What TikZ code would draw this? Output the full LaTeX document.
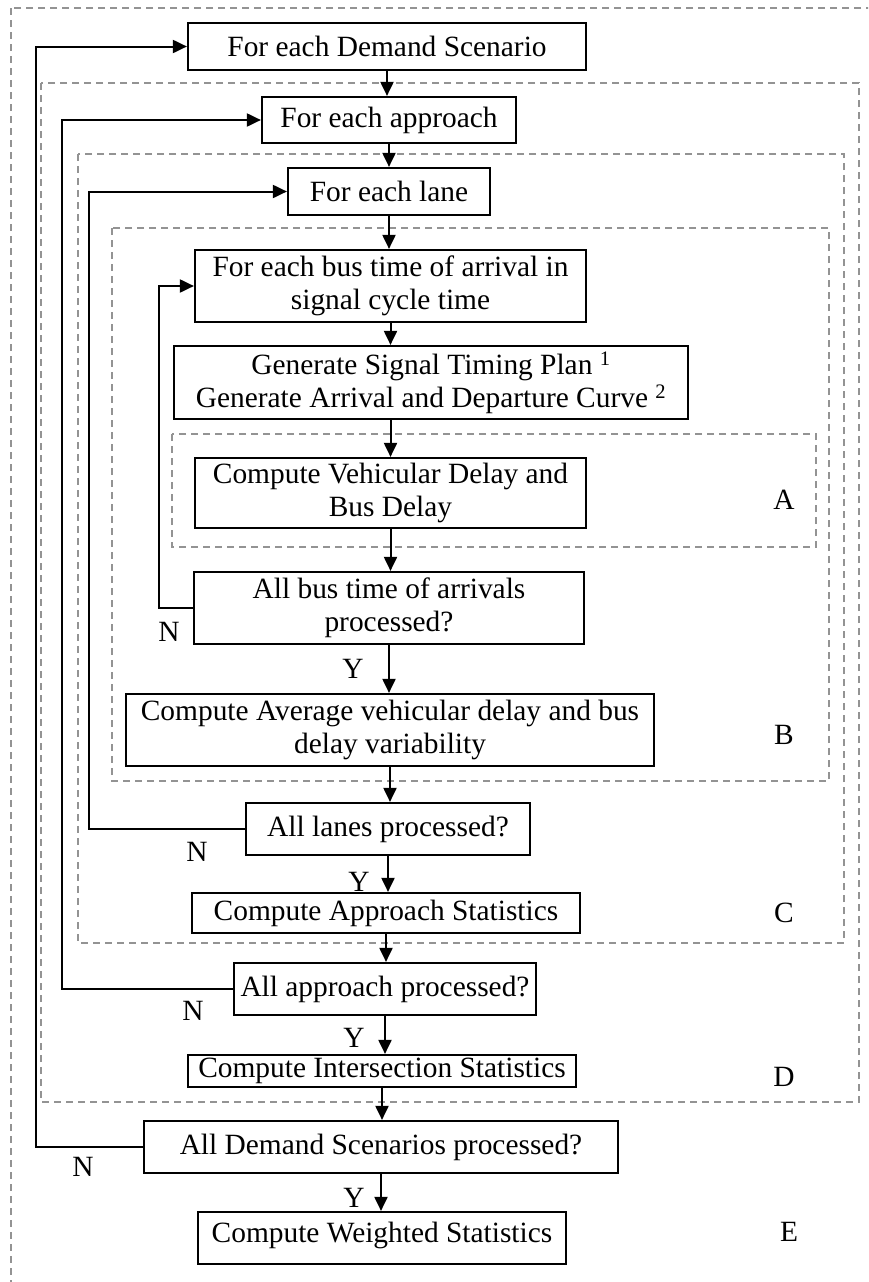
\documentclass[tikz,border=0pt]{standalone}
\usepackage{fontspec}
\setmainfont{Liberation Serif}
\usetikzlibrary{arrows.meta,calc}
\begin{document}
\begin{tikzpicture}[x=1pt,y=-1pt,
  every node/.style={font=\fontsize{29.4}{33}\selectfont},
  box/.style={draw=black,line width=2.2pt,inner sep=0pt,align=center},
  dbox/.style={draw=gray!85,line width=1.8pt,dash pattern=on 7pt off 5pt},
  arr/.style={draw=black,line width=2pt,-{Triangle[length=14pt,width=13pt]}},
  lbl/.style={inner sep=0pt}]
\clip (0,0) rectangle (868,1282);
\useasboundingbox (0,0) rectangle (868,1282);
% dashed grouping frames
\draw[dbox] (11,8) rectangle (900,1320);
\draw[dbox] (41,83) rectangle (859,1102);
\draw[dbox] (78,154) rectangle (844,943);
\draw[dbox] (112,228) rectangle (829,781);
\draw[dbox] (172,434) rectangle (816,547);
% boxes
\node[box,minimum width=398pt,minimum height=47pt] (b1) at (387,46.5) {For each Demand Scenario};
\node[box,minimum width=254pt,minimum height=46pt] (b2) at (389,120) {For each approach};
\node[box,minimum width=202pt,minimum height=47pt] (b3) at (389,191.5) {For each lane};
\node[box,minimum width=391pt,minimum height=72pt] (b4) at (390.5,286) {For each bus time of arrival in\\signal cycle time};
\node[box,minimum width=514pt,minimum height=73pt] (b5) at (431,382.5) {Generate Signal Timing Plan \textsuperscript{1}\\Generate Arrival and Departure Curve \textsuperscript{2}};
\node[box,minimum width=391pt,minimum height=70pt] (b6) at (390.5,493) {Compute Vehicular Delay and\\Bus Delay};
\node[box,minimum width=390pt,minimum height=72pt] (b7) at (389,608) {All bus time of arrivals\\processed?};
\node[box,minimum width=528pt,minimum height=72pt] (b8) at (390,730) {Compute Average vehicular delay and bus\\delay variability};
\node[box,minimum width=284pt,minimum height=52pt] (b9) at (388,829) {All lanes processed?};
\node[box,minimum width=388pt,minimum height=40pt] (b10) at (386,913) {Compute Approach Statistics};
\node[box,minimum width=302pt,minimum height=52pt] (b11) at (385,989) {All approach processed?};
\node[box,minimum width=388pt,minimum height=32pt] (b12) at (382,1071) {Compute Intersection Statistics};
\node[box,minimum width=474pt,minimum height=52pt] (b13) at (381,1147) {All Demand Scenarios processed?};
\node[box,minimum width=368pt,minimum height=52pt,text depth=12pt] (b14) at (382,1238) {Compute Weighted Statistics};
% forward arrows
\draw[arr] (b1.south) -- (b1.south |- b2.north);
\draw[arr] (b2.south) -- (b2.south |- b3.north);
\draw[arr] (b3.south) -- (b3.south |- b4.north);
\draw[arr] (b4.south) -- (b4.south |- b5.north);
\draw[arr] (b5.south -| b6.north) -- (b6.north);
\draw[arr] (b6.south) -- (b6.south |- b7.north);
\draw[arr] (b7.south) -- (b7.south |- b8.north);
\draw[arr] (b8.south) -- (b8.south |- b9.north);
\draw[arr] (b9.south) -- (b9.south |- b10.north);
\draw[arr] (b10.south) -- (b10.south |- b11.north);
\draw[arr] (b11.south) -- (b11.south |- b12.north);
\draw[arr] (b12.south) -- (b12.south |- b13.north);
\draw[arr] (b13.south) -- (b13.south |- b14.north);
% loop-back lines
\coordinate (xB) at (159,0);
\coordinate (xC) at (89,0);
\coordinate (xD) at (62,0);
\coordinate (xE) at (36,0);
\draw[arr] (b7.west) -- (b7.west -| xB) |- (b4.west);
\draw[arr] (b9.west) -- (b9.west -| xC) |- (b3.west);
\draw[arr] (b11.west) -- (b11.west -| xD) |- (b2.west);
\draw[arr] (b13.west) -- (b13.west -| xE) |- (b1.west);
% N / Y labels
\node[lbl] (n1) at (169,632) {N};
\node[lbl] (n2) at (197,852) {N};
\node[lbl] (n3) at (193,1011) {N};
\node[lbl] (n4) at (83,1167) {N};
\node[lbl] (y1) at (353,669) {Y};
\node[lbl] (y2) at (359,882) {Y};
\node[lbl] (y3) at (354,1038) {Y};
\node[lbl] (y4) at (354,1198) {Y};
% group letters
\node[lbl] (la) at (784,500) {A};
\node[lbl] (lb) at (784,735) {B};
\node[lbl] (lc) at (784,913) {C};
\node[lbl] (ld) at (784,1077) {D};
\node[lbl] (le) at (789,1232) {E};
\end{tikzpicture}
\end{document}
